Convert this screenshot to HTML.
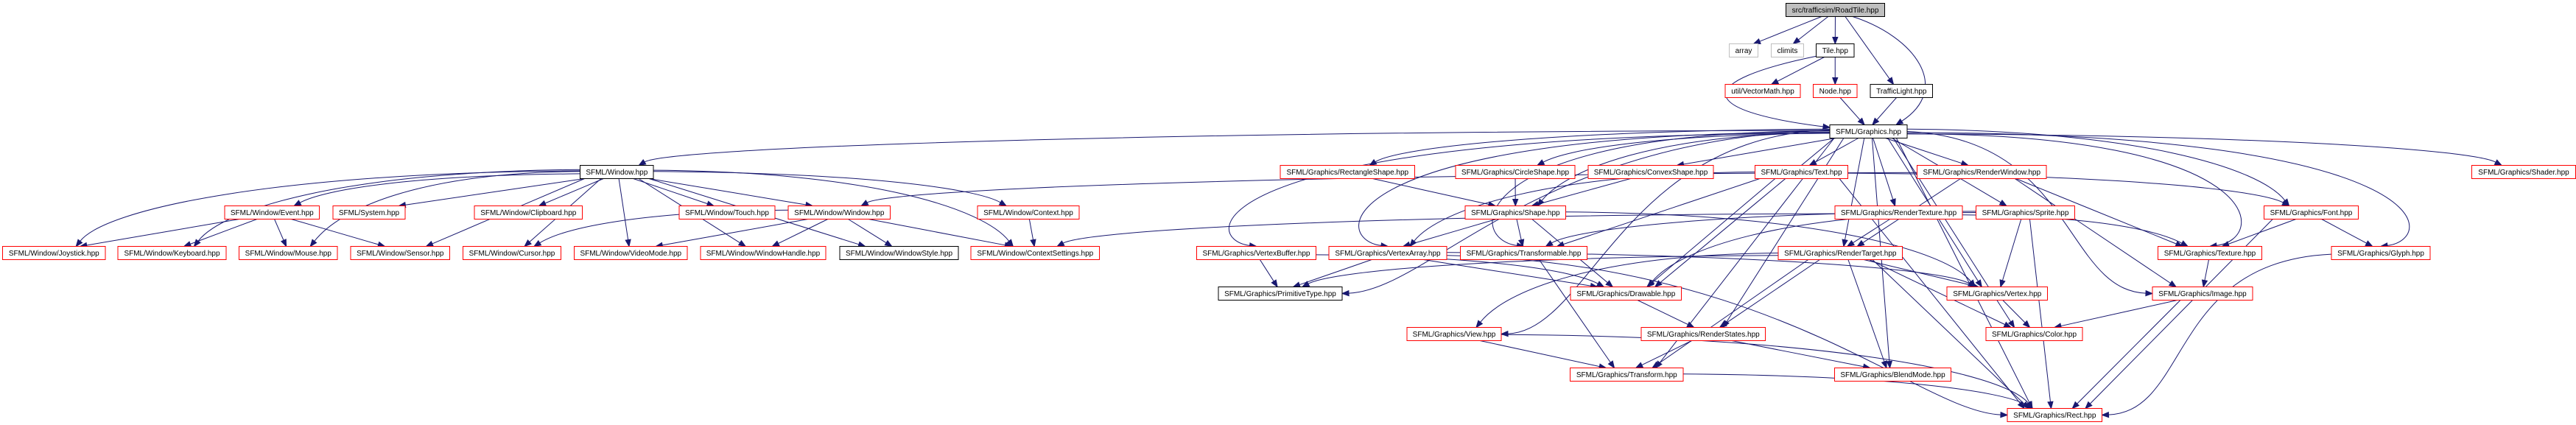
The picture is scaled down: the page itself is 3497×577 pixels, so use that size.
<!DOCTYPE html>
<html><head><meta charset="utf-8"><style>
html,body{margin:0;padding:0;background:#fff;width:3497px;height:577px;overflow:hidden}
svg{display:block}
text{font-family:"Liberation Sans",Arial,sans-serif;font-size:10px;fill:#000}
</style></head><body>
<svg id="s" width="3497" height="577" viewBox="0 0 3497 577" xmlns="http://www.w3.org/2000/svg">
<g id="edges" fill="none" stroke="#191970" stroke-width="1"></g>
<g id="heads" fill="#191970" stroke="#191970"></g>
<g id="nodes">
<g id="RoadTile"><rect x="2424.5" y="4.5" width="134" height="18" fill="#bfbfbf" stroke="#000"/><text x="2491.5" y="17" text-anchor="middle">src/trafficsim/RoadTile.hpp</text></g>
<g id="array"><rect x="2347.5" y="59.5" width="39" height="18" fill="#fff" stroke="#bfbfbf"/><text x="2367" y="72" text-anchor="middle">array</text></g>
<g id="climits"><rect x="2404.5" y="59.5" width="44" height="18" fill="#fff" stroke="#bfbfbf"/><text x="2426.5" y="72" text-anchor="middle">climits</text></g>
<g id="Tile"><rect x="2465.5" y="59.5" width="51.5" height="18" fill="#fff" stroke="#000"/><text x="2491.3" y="72" text-anchor="middle">Tile.hpp</text></g>
<g id="VectorMath"><rect x="2342" y="114.5" width="102" height="18" fill="#fff" stroke="#f00"/><text x="2393" y="127" text-anchor="middle">util/VectorMath.hpp</text></g>
<g id="Node"><rect x="2461.5" y="114.5" width="59.5" height="18" fill="#fff" stroke="#f00"/><text x="2491.3" y="127" text-anchor="middle">Node.hpp</text></g>
<g id="TrafficLight"><rect x="2539" y="114.5" width="84.5" height="18" fill="#fff" stroke="#000"/><text x="2581.3" y="127" text-anchor="middle">TrafficLight.hpp</text></g>
<g id="Graphics"><rect x="2484" y="169.5" width="105" height="18" fill="#fff" stroke="#000"/><text x="2536.5" y="182" text-anchor="middle">SFML/Graphics.hpp</text></g>
<g id="WindowH"><rect x="787.5" y="224.5" width="99.5" height="18" fill="#fff" stroke="#000"/><text x="837.3" y="237" text-anchor="middle">SFML/Window.hpp</text></g>
<g id="RectShape"><rect x="1738" y="224.5" width="182.5" height="18" fill="#fff" stroke="#f00"/><text x="1829.3" y="237" text-anchor="middle">SFML/Graphics/RectangleShape.hpp</text></g>
<g id="CircleShape"><rect x="1976" y="224.5" width="162" height="18" fill="#fff" stroke="#f00"/><text x="2057" y="237" text-anchor="middle">SFML/Graphics/CircleShape.hpp</text></g>
<g id="ConvexShape"><rect x="2156" y="224.5" width="170" height="18" fill="#fff" stroke="#f00"/><text x="2241" y="237" text-anchor="middle">SFML/Graphics/ConvexShape.hpp</text></g>
<g id="Text"><rect x="2382.5" y="224.5" width="126" height="18" fill="#fff" stroke="#f00"/><text x="2445.5" y="237" text-anchor="middle">SFML/Graphics/Text.hpp</text></g>
<g id="RenderWindow"><rect x="2602.5" y="224.5" width="175.5" height="18" fill="#fff" stroke="#f00"/><text x="2690.3" y="237" text-anchor="middle">SFML/Graphics/RenderWindow.hpp</text></g>
<g id="Shader"><rect x="3355.5" y="224.5" width="141" height="18" fill="#fff" stroke="#f00"/><text x="3426" y="237" text-anchor="middle">SFML/Graphics/Shader.hpp</text></g>
<g id="Event"><rect x="305" y="279.5" width="128.5" height="18" fill="#fff" stroke="#f00"/><text x="369.3" y="292" text-anchor="middle">SFML/Window/Event.hpp</text></g>
<g id="System"><rect x="452" y="279.5" width="98" height="18" fill="#fff" stroke="#f00"/><text x="501" y="292" text-anchor="middle">SFML/System.hpp</text></g>
<g id="Clipboard"><rect x="644" y="279.5" width="146.5" height="18" fill="#fff" stroke="#f00"/><text x="717.3" y="292" text-anchor="middle">SFML/Window/Clipboard.hpp</text></g>
<g id="Touch"><rect x="922" y="279.5" width="130" height="18" fill="#fff" stroke="#f00"/><text x="987" y="292" text-anchor="middle">SFML/Window/Touch.hpp</text></g>
<g id="WinWindow"><rect x="1070" y="279.5" width="138.5" height="18" fill="#fff" stroke="#f00"/><text x="1139.3" y="292" text-anchor="middle">SFML/Window/Window.hpp</text></g>
<g id="Context"><rect x="1327" y="279.5" width="138" height="18" fill="#fff" stroke="#f00"/><text x="1396" y="292" text-anchor="middle">SFML/Window/Context.hpp</text></g>
<g id="Shape"><rect x="1989" y="279.5" width="136.5" height="18" fill="#fff" stroke="#f00"/><text x="2057.3" y="292" text-anchor="middle">SFML/Graphics/Shape.hpp</text></g>
<g id="RenderTexture"><rect x="2491" y="279.5" width="173" height="18" fill="#fff" stroke="#f00"/><text x="2577.5" y="292" text-anchor="middle">SFML/Graphics/RenderTexture.hpp</text></g>
<g id="Sprite"><rect x="2682.5" y="279.5" width="134" height="18" fill="#fff" stroke="#f00"/><text x="2749.5" y="292" text-anchor="middle">SFML/Graphics/Sprite.hpp</text></g>
<g id="Font"><rect x="3073.5" y="279.5" width="128" height="18" fill="#fff" stroke="#f00"/><text x="3137.5" y="292" text-anchor="middle">SFML/Graphics/Font.hpp</text></g>
<g id="Joystick"><rect x="3.5" y="334.5" width="139.5" height="18" fill="#fff" stroke="#f00"/><text x="73.3" y="347" text-anchor="middle">SFML/Window/Joystick.hpp</text></g>
<g id="Keyboard"><rect x="160" y="334.5" width="147" height="18" fill="#fff" stroke="#f00"/><text x="233.5" y="347" text-anchor="middle">SFML/Window/Keyboard.hpp</text></g>
<g id="Mouse"><rect x="324.5" y="334.5" width="133.5" height="18" fill="#fff" stroke="#f00"/><text x="391.3" y="347" text-anchor="middle">SFML/Window/Mouse.hpp</text></g>
<g id="Sensor"><rect x="476" y="334.5" width="134.5" height="18" fill="#fff" stroke="#f00"/><text x="543.3" y="347" text-anchor="middle">SFML/Window/Sensor.hpp</text></g>
<g id="Cursor"><rect x="628.5" y="334.5" width="133" height="18" fill="#fff" stroke="#f00"/><text x="695" y="347" text-anchor="middle">SFML/Window/Cursor.hpp</text></g>
<g id="VideoMode"><rect x="779.5" y="334.5" width="153.5" height="18" fill="#fff" stroke="#f00"/><text x="856.3" y="347" text-anchor="middle">SFML/Window/VideoMode.hpp</text></g>
<g id="WindowHandle"><rect x="951" y="334.5" width="170" height="18" fill="#fff" stroke="#f00"/><text x="1036" y="347" text-anchor="middle">SFML/Window/WindowHandle.hpp</text></g>
<g id="WindowStyle"><rect x="1140" y="334.5" width="161" height="18" fill="#fff" stroke="#000"/><text x="1220.5" y="347" text-anchor="middle">SFML/Window/WindowStyle.hpp</text></g>
<g id="ContextSettings"><rect x="1318" y="334.5" width="174.5" height="18" fill="#fff" stroke="#f00"/><text x="1405.3" y="347" text-anchor="middle">SFML/Window/ContextSettings.hpp</text></g>
<g id="VertexBuffer"><rect x="1624.5" y="334.5" width="162" height="18" fill="#fff" stroke="#f00"/><text x="1705.5" y="347" text-anchor="middle">SFML/Graphics/VertexBuffer.hpp</text></g>
<g id="VertexArray"><rect x="1804" y="334.5" width="160" height="18" fill="#fff" stroke="#f00"/><text x="1884" y="347" text-anchor="middle">SFML/Graphics/VertexArray.hpp</text></g>
<g id="Transformable"><rect x="1982.5" y="334.5" width="172" height="18" fill="#fff" stroke="#f00"/><text x="2068.5" y="347" text-anchor="middle">SFML/Graphics/Transformable.hpp</text></g>
<g id="RenderTarget"><rect x="2414" y="334.5" width="168.5" height="18" fill="#fff" stroke="#f00"/><text x="2498.3" y="347" text-anchor="middle">SFML/Graphics/RenderTarget.hpp</text></g>
<g id="Texture"><rect x="2929.5" y="334.5" width="141" height="18" fill="#fff" stroke="#f00"/><text x="3000" y="347" text-anchor="middle">SFML/Graphics/Texture.hpp</text></g>
<g id="Glyph"><rect x="3165" y="334.5" width="134" height="18" fill="#fff" stroke="#f00"/><text x="3232" y="347" text-anchor="middle">SFML/Graphics/Glyph.hpp</text></g>
<g id="PrimitiveType"><rect x="1654" y="389.5" width="168" height="18" fill="#fff" stroke="#000"/><text x="1738" y="402" text-anchor="middle">SFML/Graphics/PrimitiveType.hpp</text></g>
<g id="Drawable"><rect x="2132" y="389.5" width="150.5" height="18" fill="#fff" stroke="#f00"/><text x="2207.3" y="402" text-anchor="middle">SFML/Graphics/Drawable.hpp</text></g>
<g id="Vertex"><rect x="2643" y="389.5" width="136.5" height="18" fill="#fff" stroke="#f00"/><text x="2711.3" y="402" text-anchor="middle">SFML/Graphics/Vertex.hpp</text></g>
<g id="Image"><rect x="2922" y="389.5" width="136" height="18" fill="#fff" stroke="#f00"/><text x="2990" y="402" text-anchor="middle">SFML/Graphics/Image.hpp</text></g>
<g id="View"><rect x="1910" y="444.5" width="128" height="18" fill="#fff" stroke="#f00"/><text x="1974" y="457" text-anchor="middle">SFML/Graphics/View.hpp</text></g>
<g id="RenderStates"><rect x="2228" y="444.5" width="168.5" height="18" fill="#fff" stroke="#f00"/><text x="2312.3" y="457" text-anchor="middle">SFML/Graphics/RenderStates.hpp</text></g>
<g id="Color"><rect x="2696" y="444.5" width="131" height="18" fill="#fff" stroke="#f00"/><text x="2761.5" y="457" text-anchor="middle">SFML/Graphics/Color.hpp</text></g>
<g id="Transform"><rect x="2131.5" y="499.5" width="153.5" height="18" fill="#fff" stroke="#f00"/><text x="2208.3" y="512" text-anchor="middle">SFML/Graphics/Transform.hpp</text></g>
<g id="BlendMode"><rect x="2490.5" y="499.5" width="158" height="18" fill="#fff" stroke="#f00"/><text x="2569.5" y="512" text-anchor="middle">SFML/Graphics/BlendMode.hpp</text></g>
<g id="Rect"><rect x="2725" y="554.5" width="128.5" height="18" fill="#fff" stroke="#f00"/><text x="2789.3" y="567" text-anchor="middle">SFML/Graphics/Rect.hpp</text></g>
</g>
</svg>
<script>
(function(){
var N={};
document.querySelectorAll('#nodes > g').forEach(function(g){
 var r=g.querySelector('rect');
 var x=+r.getAttribute('x'),y=+r.getAttribute('y'),w=+r.getAttribute('width'),h=+r.getAttribute('height');
 N[g.id]={l:x,r:x+w,t:y,b:y+h,cx:x+w/2,cy:y+h/2};
});
var E=[
['RoadTile','array'],['RoadTile','climits'],['RoadTile','Tile'],['RoadTile','TrafficLight'],
['Tile','VectorMath'],['Tile','Node'],['Node','Graphics'],['TrafficLight','Graphics'],
['Graphics','WindowH'],['Graphics','RectShape'],['Graphics','CircleShape'],['Graphics','ConvexShape'],['Graphics','Text'],['Graphics','RenderWindow'],['Graphics','Shader'],['Graphics','Shape'],['Graphics','RenderTexture'],['Graphics','Sprite'],['Graphics','Font'],['Graphics','VertexBuffer'],['Graphics','VertexArray'],['Graphics','Transformable'],['Graphics','RenderTarget'],['Graphics','Texture'],['Graphics','Glyph'],['Graphics','Image'],['Graphics','PrimitiveType'],['Graphics','Drawable'],['Graphics','Vertex'],['Graphics','RenderStates'],['Graphics','Color'],['Graphics','View'],['Graphics','Transform'],['Graphics','BlendMode'],['Graphics','Rect'],
['WindowH','Joystick'],['WindowH','Keyboard'],['WindowH','Event'],['WindowH','System'],['WindowH','Mouse'],['WindowH','Clipboard'],['WindowH','Sensor'],['WindowH','Cursor'],['WindowH','VideoMode'],['WindowH','WindowHandle'],['WindowH','Touch'],['WindowH','WinWindow'],['WindowH','WindowStyle'],['WindowH','Context'],['WindowH','ContextSettings'],
['Event','Joystick'],['Event','Keyboard'],['Event','Mouse'],['Event','Sensor'],
['WinWindow','Cursor'],['WinWindow','VideoMode'],['WinWindow','WindowHandle'],['WinWindow','WindowStyle'],['WinWindow','ContextSettings'],
['Context','ContextSettings'],
['RectShape','Shape'],['CircleShape','Shape'],['ConvexShape','Shape'],
['Shape','VertexArray'],['Shape','Drawable'],['Shape','Transformable'],['Shape','Vertex'],
['Text','Drawable'],['Text','Transformable'],['Text','Font'],['Text','VertexArray'],['Text','Rect'],
['RenderWindow','RenderTarget'],['RenderWindow','Image'],['RenderWindow','WinWindow'],['RenderWindow','Texture'],
['RenderTexture','RenderTarget'],['RenderTexture','Texture'],['RenderTexture','ContextSettings'],
['Sprite','Drawable'],['Sprite','Transformable'],['Sprite','Vertex'],['Sprite','Rect'],
['Font','Texture'],['Font','Glyph'],['Font','Rect'],['Texture','Image'],['Glyph','Rect'],['Image','Color'],['Image','Rect'],
['VertexBuffer','PrimitiveType'],['VertexBuffer','Drawable'],
['VertexArray','PrimitiveType'],['VertexArray','Vertex'],['VertexArray','Drawable'],['VertexArray','Rect'],
['Transformable','Transform'],
['RenderTarget','View'],['RenderTarget','RenderStates'],['RenderTarget','Vertex'],['RenderTarget','Color'],['RenderTarget','Rect'],['RenderTarget','BlendMode'],['RenderTarget','Transform'],['RenderTarget','PrimitiveType'],
['Drawable','RenderStates'],['Vertex','Color'],['RenderStates','Transform'],['RenderStates','BlendMode'],
['View','Transform'],['View','Rect'],['Transform','Rect']
];
var eg=document.getElementById('edges'),hg=document.getElementById('heads');
var ns='http://www.w3.org/2000/svg';
function cl(v,a,b){return Math.max(a,Math.min(b,v));}
function draw(sx,sy,c1x,c1y,c2x,c2y,ex,ey){
 var vx=ex-c2x, vy=ey-c2y, L=Math.hypot(vx,vy)||1; vx/=L; vy/=L;
 var al=9, aw=3.5;
 var bx2=ex-vx*al, by2=ey-vy*al;
 var p=document.createElementNS(ns,'path');
 p.setAttribute('d','M'+sx+','+sy+' C'+c1x+','+c1y+' '+c2x+','+c2y+' '+bx2+','+by2);
 eg.appendChild(p);
 var h=document.createElementNS(ns,'polygon');
 h.setAttribute('points',ex+','+ey+' '+(bx2-vy*aw)+','+(by2+vx*aw)+' '+(bx2+vy*aw)+','+(by2-vx*aw));
 hg.appendChild(h);
}
E.forEach(function(e,i){
 var A=N[e[0]],B=N[e[1]]; if(!A||!B)return;
 var sx,sy,ex,ey,c1x,c1y,c2x,c2y;
 var dx=B.cx-A.cx, dy=B.t-A.b;
 var j=((i*7)%9-4)*0.8;
 if(Math.abs(dx)>420 && dy<120){
  sx = dx<0?A.l:A.r; sy=A.cy+j;
  ex = cl(B.cx + (dx<0?30:-30), B.l+8, B.r-8); ey=B.t;
  c1x=sx+(ex-sx)*0.6; c1y=sy+2; c2x=ex+(dx<0?40:-40); c2y=sy+(ey-sy)*0.5;
 } else if(Math.abs(dx)>420){
  sx = dx<0?A.l:A.r; sy=A.cy+j;
  ex = cl(B.cx, B.l+8, B.r-8); ey=B.t;
  var bx = dx<0? Math.min(ex, A.l)-80 : Math.max(ex,A.r)+80;
  c1x=bx; c1y=sy; c2x=bx; c2y=ey-10;
  if(dy>200){
   ex = dx<0?B.r:B.l; ey=B.cy;
   c1x=sx+(dx<0?-1:1)*Math.abs(dx)*0.5; c1y=sy+10; c2x=ex+(dx<0?120:-120); c2y=ey-5;
  }
 } else {
  sx = cl(A.cx+dx*0.15, A.l+6, A.r-6); sy=A.b;
  ex = cl(B.cx-dx*0.12, B.l+6, B.r-6); ey=B.t;
  if(dy<0){ey=B.b;}
  c1x=sx+(ex-sx)*0.3; c1y=sy+(ey-sy)*0.3; c2x=sx+(ex-sx)*0.7; c2y=sy+(ey-sy)*0.7;
 }
 draw(sx,sy,c1x,c1y,c2x,c2y,ex,ey);
});
// special curved edges
draw(2515,22.5, 2600,50, 2650,120, 2574,169.5);   // RoadTile -> Graphics (curve right)
draw(2467,76, 2300,110, 2300,150, 2484,173);       // Tile -> Graphics (curve left)
})();
</script>
</body></html>
